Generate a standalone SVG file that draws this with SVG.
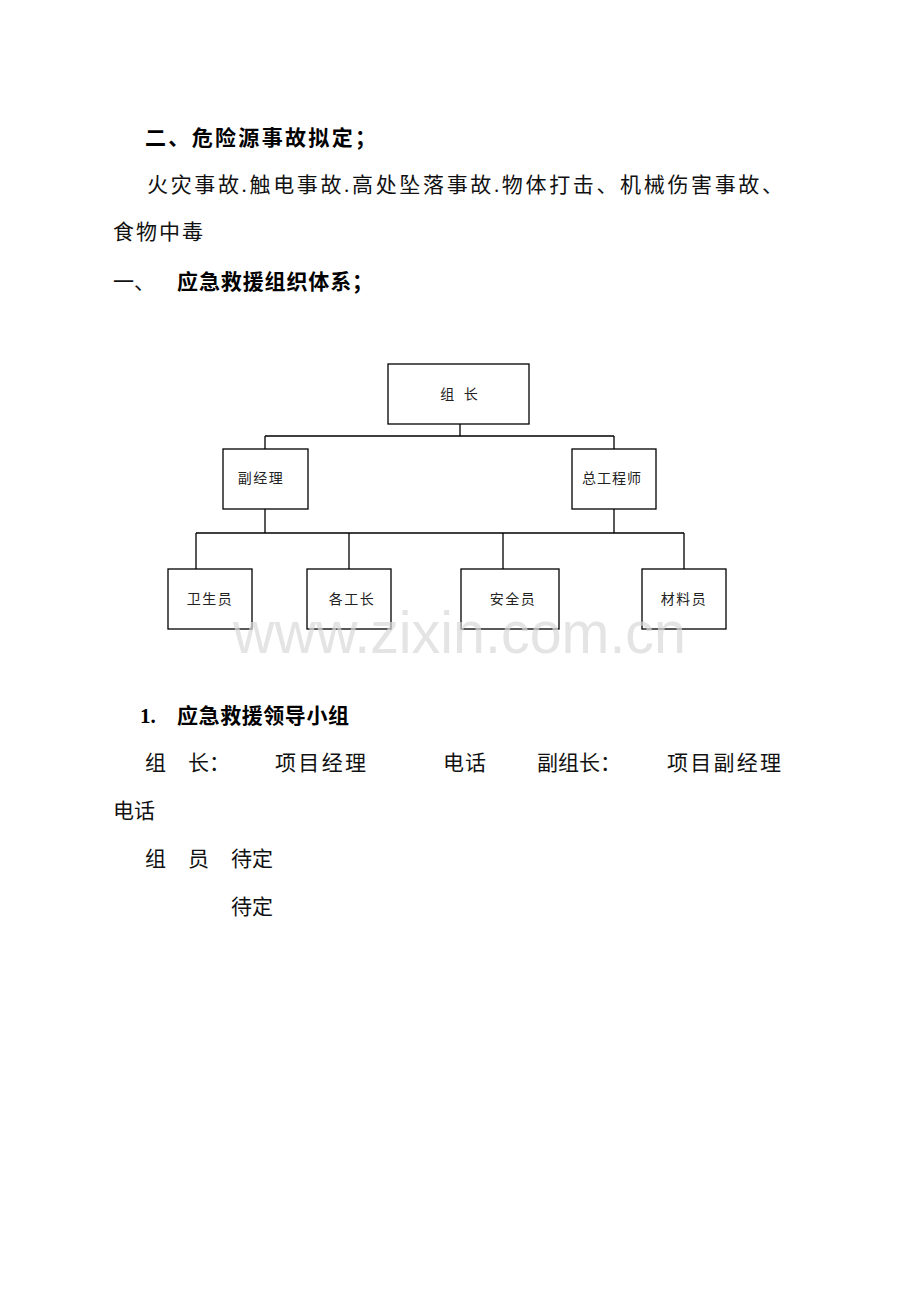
<svg xmlns="http://www.w3.org/2000/svg" width="920" height="1302" viewBox="0 0 920 1302">
<style>
.t{font-family:"Liberation Serif","Noto Sans CJK SC",serif;font-size:21px;fill:#111}
.b{font-family:"Liberation Serif","Noto Sans CJK SC",serif;font-size:21px;font-weight:bold;fill:#000}
.n{font-family:"Noto Sans CJK SC",sans-serif;font-size:14px;fill:#222;text-anchor:middle}
.box{fill:#fff;stroke:#000;stroke-width:1.3}
.ln{stroke:#000;stroke-width:1.3;fill:none}
.wm{font-family:"Liberation Sans",Arial,sans-serif;font-size:60px;fill:#d9d9d9;fill-opacity:0.7}
</style>
<rect width="920" height="1302" fill="#fff"/>
<g id="text-top">
<text class="b" x="145" y="145" textLength="231" lengthAdjust="spacing">二、危险源事故拟定；</text>
<text class="t" x="147" y="192" textLength="636" lengthAdjust="spacing">火灾事故.触电事故.高处坠落事故.物体打击、机械伤害事故、</text>
<text class="t" x="113" y="239" textLength="90" lengthAdjust="spacing">食物中毒</text>
<text class="t" x="113" y="289">一、</text>
<text class="b" x="177" y="289" textLength="196" lengthAdjust="spacing">应急救援组织体系；</text>
</g>
<g id="connectors">
<path class="ln" d="M460 424V436M265 436H614M265 436V449M614 436V449"/>
<path class="ln" d="M265 509V533M614 509V533M196 533H684M196 533V569M349 533V569M503 533V569M684 533V569"/>
</g>
<g id="node-zuzhang"><rect class="box" x="388" y="364" width="141" height="60"/><text class="n" x="459" y="399" xml:space="preserve">组   长</text></g>
<g id="node-fujingli"><rect class="box" x="223" y="449" width="85" height="60"/><text class="n" x="261" y="483" letter-spacing="1.5">副经理</text></g>
<g id="node-zonggong"><rect class="box" x="572" y="449" width="84" height="60"/><text class="n" x="612" y="483" font-size="13" letter-spacing="1">总工程师</text></g>
<g id="node-weisheng"><rect class="box" x="168" y="569" width="84" height="60"/><text class="n" x="210" y="604" letter-spacing="1.5">卫生员</text></g>
<g id="node-gegongzhang"><rect class="box" x="307" y="569" width="84" height="60"/><text class="n" x="352" y="604" letter-spacing="1.5">各工长</text></g>
<g id="node-anquan"><rect class="box" x="461" y="569" width="98" height="60"/><text class="n" x="513" y="604" letter-spacing="1.5">安全员</text></g>
<g id="node-cailiao"><rect class="box" x="642" y="569" width="84" height="60"/><text class="n" x="684" y="604" letter-spacing="1.5">材料员</text></g>
<text class="wm" x="233" y="653" textLength="453" lengthAdjust="spacingAndGlyphs">www.zixin.com.cn</text>
<g id="text-bottom">
<text class="b" x="140" y="723">1.</text>
<text class="b" x="177" y="723" textLength="172" lengthAdjust="spacing">应急救援领导小组</text>
<text class="t" x="145" y="770">组</text>
<text class="t" x="188" y="770">长：</text>
<text class="t" x="275" y="770" textLength="91" lengthAdjust="spacing">项目经理</text>
<text class="t" x="443" y="770" textLength="43" lengthAdjust="spacing">电话</text>
<text class="t" x="537" y="770">副组长：</text>
<text class="t" x="667" y="770" textLength="114" lengthAdjust="spacing">项目副经理</text>
<text class="t" x="113" y="818" textLength="42" lengthAdjust="spacing">电话</text>
<text class="t" x="145" y="866">组</text>
<text class="t" x="188" y="866">员</text>
<text class="t" x="231" y="866" textLength="42" lengthAdjust="spacing">待定</text>
<text class="t" x="231" y="914" textLength="42" lengthAdjust="spacing">待定</text>
</g>
</svg>
